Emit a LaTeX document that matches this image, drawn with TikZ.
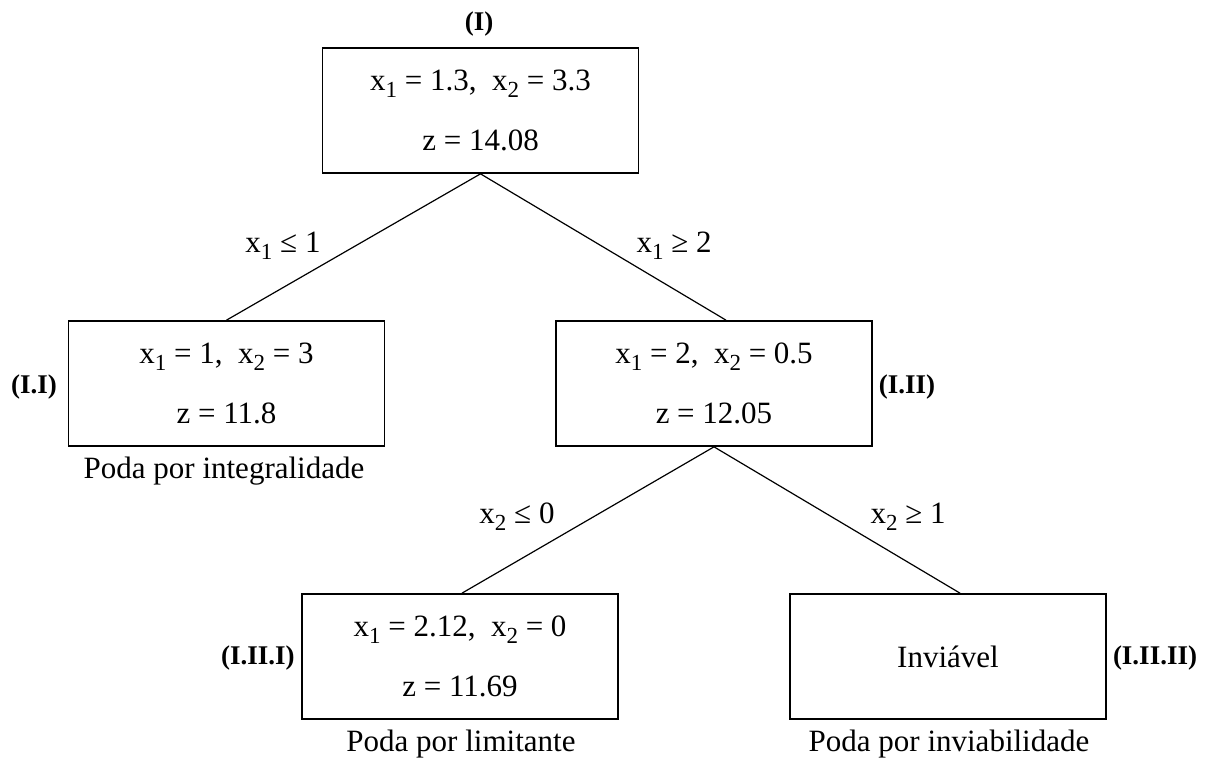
\documentclass[tikz,border=0pt]{standalone}
\usepackage{fontspec}
\setmainfont{Liberation Serif}
\newcommand{\sbs}[1]{\raisebox{-7pt}{\fontsize{23}{23}\selectfont #1}}
\begin{document}
\begin{tikzpicture}[x=1pt,y=-1pt,
  box/.style={draw, line width=1.7pt, minimum width=316pt, minimum height=125pt,
    inner sep=0pt, align=center, font=\fontsize{31}{60}\selectfont},
  edge/.style={line width=1.2pt},
  lbl/.style={font=\fontsize{27}{27}\selectfont\bfseries, inner sep=0pt},
  cond/.style={font=\fontsize{31}{31}\selectfont, anchor=base, inner sep=0pt},
  note/.style={font=\fontsize{31}{31}\selectfont, anchor=base, inner sep=0pt}]
\useasboundingbox (0,0) rectangle (1207,762);

\node[box] (r)   at (480.5,110.5) {x\sbs{1} = 1.3,\enspace x\sbs{2} = 3.3\\z = 14.08};
\node[box] (i1)  at (226.5,383.5) {x\sbs{1} = 1,\enspace x\sbs{2} = 3\\z = 11.8};
\node[box] (i2)  at (714,383.5)   {x\sbs{1} = 2,\enspace x\sbs{2} = 0.5\\z = 12.05};
\node[box] (i21) at (460,656.5)   {x\sbs{1} = 2.12,\enspace x\sbs{2} = 0\\z = 11.69};
\node[box] (i22) at (948,656.5)   {Inviável};

\node[lbl] (lr)   at (479,24)   {(I)};
\node[lbl] (li1)  at (34,387)   {(I.I)};
\node[lbl] (li2)  at (907,387)  {(I.II)};
\node[lbl] (li21) at (258,658)  {(I.II.I)};
\node[lbl] (li22) at (1155,658) {(I.II.II)};

\draw[edge] (r.south) -- (i1.north);
\draw[edge] (r.south) -- ([xshift=12pt]i2.north);
\draw[edge] (i2.south) -- ([xshift=2pt]i21.north);
\draw[edge] (i2.south) -- ([xshift=12pt]i22.north);

\node[cond] (c1) at (283,252) {x\sbs{1} ≤ 1};
\node[cond] (c2) at (674,252) {x\sbs{1} ≥ 2};
\node[cond] (c3) at (517,523) {x\sbs{2} ≤ 0};
\node[cond] (c4) at (908,523) {x\sbs{2} ≥ 1};

\node[note] (n1) at (224,478) {Poda por integralidade};
\node[note] (n2) at (461,751) {Poda por limitante};
\node[note] (n3) at (949,751) {Poda por inviabilidade};
\end{tikzpicture}
\end{document}
